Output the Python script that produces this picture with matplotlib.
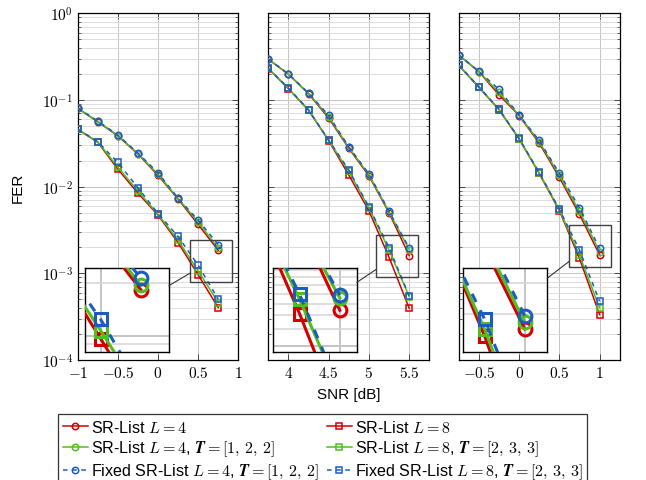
import numpy as np
import matplotlib
matplotlib.use("Agg")
import matplotlib.pyplot as plt
from matplotlib.lines import Line2D
from matplotlib.patches import Rectangle

plt.rcParams['font.family'] = ['Liberation Sans', 'DejaVu Sans']
plt.rcParams['mathtext.fontset'] = 'cm'
plt.rcParams['font.size'] = 10

# ---------------- data ----------------
snr_a = [-1.0, -0.75, -0.5, -0.25, 0.0, 0.25, 0.5, 0.75]
snr_b = [3.75, 4.0, 4.25, 4.5, 4.75, 5.0, 5.25, 5.5]
snr_c = [-0.75, -0.5, -0.25, 0.0, 0.25, 0.5, 0.75, 1.0]

# panel a
a_l4_red   = [0.0800, 0.0560, 0.0385, 0.0238, 0.0135, 0.0072, 0.00366, 0.00184]
a_l4_green = [0.0803, 0.0565, 0.0388, 0.0240, 0.0139, 0.0073, 0.00390, 0.00195]
a_l4_blue  = [0.0807, 0.0571, 0.0393, 0.0244, 0.01445, 0.00737, 0.00410, 0.00215]
a_l8_red   = [0.0458, 0.0325, 0.0159, 0.0084, 0.0047, 0.00226, 0.00096, 0.000402]
a_l8_green = [0.0460, 0.0328, 0.0168, 0.0089, 0.0048, 0.00240, 0.00107, 0.000460]
a_l8_blue  = [0.0461, 0.0330, 0.0190, 0.0097, 0.0049, 0.00266, 0.00124, 0.000502]

# panel b
b_l4_red   = [0.295, 0.198, 0.118, 0.0618, 0.0277, 0.0133, 0.00500, 0.00160]
b_l4_green = [0.296, 0.199, 0.119, 0.0640, 0.0283, 0.0137, 0.00510, 0.00188]
b_l4_blue  = [0.297, 0.200, 0.120, 0.0664, 0.0288, 0.01406, 0.00521, 0.00196]
b_l8_red   = [0.230, 0.135, 0.076, 0.0340, 0.0136, 0.00526, 0.00153, 0.000395]
b_l8_green = [0.231, 0.136, 0.0765, 0.0342, 0.0150, 0.00570, 0.00185, 0.000540]
b_l8_blue  = [0.232, 0.137, 0.077, 0.0344, 0.0156, 0.00585, 0.00198, 0.000548]

# panel c
c_l4_red   = [0.330, 0.212, 0.115, 0.0660, 0.0318, 0.0128, 0.00480, 0.00163]
c_l4_green = [0.331, 0.213, 0.122, 0.0665, 0.0330, 0.0135, 0.00520, 0.00178]
c_l4_blue  = [0.333, 0.214, 0.1325, 0.0670, 0.0341, 0.0143, 0.00570, 0.00194]
c_l8_red   = [0.251, 0.140, 0.0775, 0.0355, 0.0142, 0.0053, 0.00149, 0.000334]
c_l8_green = [0.252, 0.141, 0.0780, 0.0358, 0.0144, 0.0054, 0.00163, 0.000400]
c_l8_blue  = [0.253, 0.142, 0.0785, 0.0360, 0.0146, 0.0055, 0.00186, 0.000476]

labels = [
    r'SR-List $L=4$',
    r'SR-List $L=4$, $\mathbfit{T}=[1,\,2,\,2]$',
    r'Fixed SR-List $L=4$, $\mathbfit{T}=[1,\,2,\,2]$',
    r'SR-List $L=8$',
    r'SR-List $L=8$, $\mathbfit{T}=[2,\,3,\,3]$',
    r'Fixed SR-List $L=8$, $\mathbfit{T}=[2,\,3,\,3]$',
]

xticks_a = [-1, -0.5, 0, 0.5, 1]
xticks_b = [4, 4.5, 5, 5.5]
xticks_c = [-0.5, 0, 0.5, 1]
xlabels_a = [r'$-1$', r'$-0.5$', r'$0$', r'$0.5$', r'$1$']
xlabels_b = [r'$4$', r'$4.5$', r'$5$', r'$5.5$']
xlabels_c = [r'$-0.5$', r'$0$', r'$0.5$', r'$1$']
yticks = [1e-4, 1e-3, 1e-2, 1e-1, 1e0]
ylabels = [r'$10^{-4}$', r'$10^{-3}$', r'$10^{-2}$', r'$10^{-1}$', r'$10^{0}$']

RED = '#d40000'
GREEN = '#4fbe1e'
BLUE = '#1c5cc0'

W, H = 646, 481
fig = plt.figure(figsize=(W / 100, H / 100), dpi=100)


def px_axes(l, r, t, b):
    return fig.add_axes([l / W, 1 - b / H, (r - l) / W, (b - t) / H])


def draw_curves(ax, x, series, scale=1.0):
    handles = []
    styles = [
        (RED, '-', 'o'), (GREEN, '-', 'o'), (BLUE, '--', 'o'),
        (RED, '-', 's'), (GREEN, '-', 's'), (BLUE, '--', 's'),
    ]
    for i in range(6):
        c, ls, m = styles[i]
        ln, = ax.plot(x, series[i], color=c, linestyle=ls, marker=m,
                      lw=1.1 * scale, ms=4.6 * scale, mew=1.1 * scale,
                      mfc='none', mec=c, zorder=3 + (i % 3) * 0.1)
        if ls == '--':
            ln.set_dashes((3, 3))
        handles.append(ln)
    return handles


def style_grid(ax, scale=1.0):
    ax.set_yscale('log')
    ax.grid(True, which='major', axis='both', color='#c4c4c4', lw=0.7 * scale, zorder=0)
    ax.grid(True, which='minor', axis='y', color='#d8d8d8', lw=0.6 * scale, zorder=0)
    ax.set_axisbelow(True)


panels = [
    (77.7, 238.3, snr_a, (-1, 1), xticks_a, xlabels_a,
     [a_l4_red, a_l4_green, a_l4_blue, a_l8_red, a_l8_green, a_l8_blue],
     (0.664, 1.40e-3), 85.0),
    (268.3, 429.3, snr_b, (3.75, 5.75), xticks_b, xlabels_b,
     [b_l4_red, b_l4_green, b_l4_blue, b_l8_red, b_l8_green, b_l8_blue],
     (5.346, 1.60e-3), 273.0),
    (458.7, 619.7, snr_c, (-0.75, 1.25), xticks_c, xlabels_c,
     [c_l4_red, c_l4_green, c_l4_blue, c_l8_red, c_l8_green, c_l8_blue],
     (0.879, 2.09e-3), 463.3),
]

TOP, BOT = 14.3, 361.0
SPY_HALF = 21.0
MAG = 2.0
INS_TOP = 269.3

legend_handles = None
for k, (l, r, x, xlim, xt, xtl, series, spy_c, ins_left) in enumerate(panels):
    ax = px_axes(l, r, TOP, BOT)
    style_grid(ax)
    hs = draw_curves(ax, x, series)
    if legend_handles is None:
        legend_handles = hs
    ax.set_xticks(xt)
    ax.set_xticklabels(xtl, fontsize=11)
    ax.set_yticks(yticks)
    ax.set_xlim(*xlim)
    ax.set_ylim(1e-4, 1)
    if k == 0:
        ax.set_yticklabels(ylabels, fontsize=11)
    else:
        ax.set_yticklabels([])
    ax.tick_params(which='both', direction='in', top=True, right=True, color='#333333')
    ax.tick_params(which='major', length=4, width=0.6)
    ax.tick_params(which='minor', length=2.2, width=0.5)
    ax.tick_params(axis='x', which='minor', bottom=False, top=False)
    for sp in ax.spines.values():
        sp.set_linewidth(0.9)

    # spy region
    cx_px, cy_px = ax.transData.transform(spy_c)
    inv = ax.transData.inverted()
    x0, y0 = inv.transform((cx_px - SPY_HALF, cy_px - SPY_HALF))
    x1, y1 = inv.transform((cx_px + SPY_HALF, cy_px + SPY_HALF))
    ax.add_patch(Rectangle((x0, y0), x1 - x0, y1 - y0, fill=False,
                           ec='#404040', lw=1.0, zorder=6))

    # magnified inset
    ins_size = 2 * SPY_HALF * MAG
    iax = px_axes(ins_left, ins_left + ins_size, INS_TOP, INS_TOP + ins_size)
    style_grid(iax, scale=MAG)
    draw_curves(iax, x, series, scale=MAG)
    iax.set_xticks(xt)
    iax.set_xlim(x0, x1)
    iax.set_ylim(y0, y1)
    iax.tick_params(which='both', length=0, labelbottom=False, labelleft=False)
    iax.set_facecolor('white')
    for sp in iax.spines.values():
        sp.set_linewidth(1.0)

    # connector between spy box and inset (clipped to both boxes)
    icx, icy = iax.transAxes.transform((0.5, 0.5))
    dx, dy = icx - cx_px, icy - cy_px
    t1 = min(SPY_HALF / abs(dx), SPY_HALF / abs(dy))
    t2 = 1 - min((ins_size / 2) / abs(dx), (ins_size / 2) / abs(dy))
    p1 = fig.transFigure.inverted().transform((cx_px + t1 * dx, cy_px + t1 * dy))
    p2 = fig.transFigure.inverted().transform((cx_px + t2 * dx, cy_px + t2 * dy))
    fig.lines.append(Line2D([p1[0], p2[0]], [p1[1], p2[1]], color='#333333',
                            lw=0.8, transform=fig.transFigure))

fig.text(18 / W, 1 - 188 / H, 'FER', rotation=90, ha='center', va='center', fontsize=11)
fig.text(348.8 / W, 1 - 395 / H, 'SNR [dB]', ha='center', va='center', fontsize=11)

leg = fig.legend(legend_handles, labels, ncol=2, loc='upper left',
                 bbox_to_anchor=(57.7 / W, 1 - 415 / H), fontsize=11.6,
                 frameon=True, fancybox=False, edgecolor='black',
                 handlelength=1.6, handletextpad=0.15, columnspacing=0.5,
                 labelspacing=0.22, borderpad=0.3, borderaxespad=0)
leg.get_frame().set_linewidth(0.9)

fig.savefig('out.png', dpi=100)
